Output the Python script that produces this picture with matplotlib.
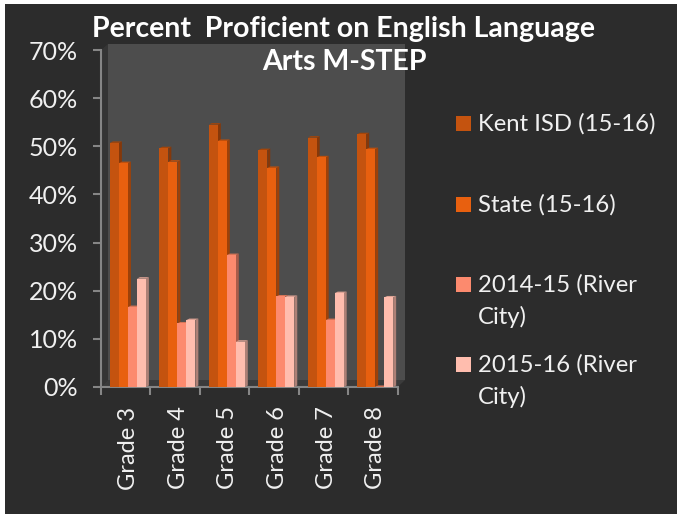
import matplotlib
matplotlib.use("Agg")
import matplotlib.pyplot as plt
from matplotlib.patches import Polygon, Rectangle
from matplotlib.transforms import Affine2D, ScaledTranslation
import numpy as np

categories = ["Grade 3", "Grade 4", "Grade 5", "Grade 6", "Grade 7", "Grade 8"]
kent = [50.7, 49.6, 54.5, 49.2, 51.8, 52.5]
state = [46.5, 46.8, 51.1, 45.5, 47.7, 49.4]
rc_1415 = [16.6, 13.2, 27.4, 18.8, 13.9, 0.0]
rc_1516 = [22.5, 13.9, 9.4, 18.7, 19.5, 18.6]
series = [kent, state, rc_1415, rc_1516]
labels = ["Kent ISD (15-16)", "State (15-16)", "2014-15 (River\nCity)", "2015-16 (River\nCity)"]
colors = ["#C4530F", "#E8600F", "#FC8A6E", "#FFBDAE"]
sides = ["#85380A", "#9D4109", "#A95C4A", "#AD8076"]
tops = ["#A44509", "#C0500C", "#D67558", "#DDA496"]
yticks = [0, 10, 20, 30, 40, 50, 60, 70]

W, H = 677, 514
plt.rcParams["font.family"] = ["Lato", "DejaVu Sans"]
BG = "#2C2C2C"
TXT = "#F0F0F0"
fig = plt.figure(figsize=(W / 100, H / 100), dpi=100, facecolor="white")
px = Affine2D().scale(1 / W, -1 / H).translate(0, 1) + fig.transFigure

fig.patches.append(Rectangle((5, 4), W - 5, H - 4, transform=px, fc=BG, ec="none", zorder=-5))
# chart walls
fig.patches.append(Polygon([(108, 44), (405, 44), (405, 380), (108, 380)], transform=px, fc="#4D4D4D", ec="none", zorder=-4))
fig.patches.append(Polygon([(101, 50), (108, 44), (108, 380), (101, 387)], transform=px, fc="#353535", ec="none", zorder=-4))
fig.patches.append(Polygon([(101, 387), (108, 380), (405, 380), (397.7, 387)], transform=px, fc="#3B3B3B", ec="none", zorder=-4))

ax = fig.add_axes([101 / W, 1 - 387 / H, 296.7 / W, 337 / H])
ax.patch.set_alpha(0)
ax.set_xlim(0, 6)
ax.set_ylim(0, 70)
for s in ("top", "right"):
    ax.spines[s].set_visible(False)
for s in ("left", "bottom"):
    ax.spines[s].set_color("#868686")
    ax.spines[s].set_linewidth(1.5)

bw = 0.182
start = 0.18
dx = 3 / 49.45
dy = 1.5 / 4.81
for i, (vals, c, sc, tc) in enumerate(zip(series, colors, sides, tops)):
    x0 = np.arange(len(categories)) + start + i * bw
    for x, v in zip(x0, vals):
        x1 = x + bw
        ax.add_patch(Polygon([(x1, 0), (x1, v), (x1 + dx, v + dy), (x1 + dx, dy)], fc=sc, ec="none", clip_on=False, zorder=3 + i))
        ax.add_patch(Polygon([(x, v), (x1, v), (x1 + dx, v + dy), (x + dx, v + dy)], fc=tc, ec="none", clip_on=False, zorder=3 + i))
    ax.bar(x0, vals, bw, align="edge", color=c, linewidth=0, zorder=3 + i, clip_on=False)

ax.set_yticks(yticks)
ax.set_yticklabels([f"{v}%" for v in yticks], fontsize=18, color=TXT)
ax.tick_params(axis="y", length=6, width=1.5, color="#868686", pad=10.5)
ax.set_xticks(range(7))
ax.set_xticklabels([])
ax.tick_params(axis="x", which="major", length=6, width=1.5, color="#868686")
ax.set_xticks(np.arange(6) + 0.5, minor=True)
ax.set_xticklabels(categories, minor=True, rotation=90, fontsize=17, color=TXT, ha="center", va="top")
ax.tick_params(axis="x", which="minor", length=0, pad=14)
off = ScaledTranslation(3 / 72 * 0.72, 0, fig.dpi_scale_trans)
for t in ax.get_xticklabels(minor=True):
    t.set_transform(t.get_transform() + off)

fig.suptitle("Percent  Proficient on English Language\nArts M-STEP", x=344 / W, y=1 - 16 / H,
             va="top", ha="center", fontsize=20.5, fontweight="bold", color="white", linespacing=1.33)

legend_y = [116, 197, 277, 357]
for y, lab, c in zip(legend_y, labels, colors):
    fig.patches.append(Rectangle((456, y), 15, 15, transform=px, fc=c, ec="none"))
    fig.text(478 / W, 1 - (y - 3) / H, lab, fontsize=17.2, color=TXT, va="top", ha="left", linespacing=1.58)

fig.savefig("out.png", dpi=100, facecolor="white")
